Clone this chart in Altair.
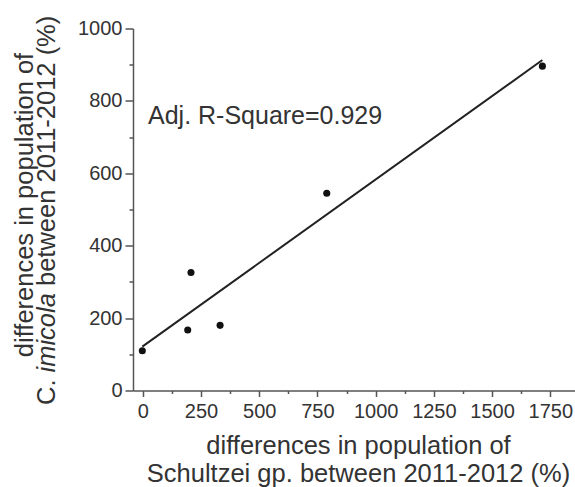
import altair as alt
import pandas as pd

# Change in population (%) between 2011 and 2012
schultzei_diff = [-2, 193, 207, 332, 790, 1716]
imicola_diff = [110, 167, 326, 180, 545, 896]

# Axis tick values
x_major = [0, 250, 500, 750, 1000, 1250, 1500, 1750]
x_minor = [125, 375, 625, 875, 1125, 1375, 1625]
y_major = [0, 200, 400, 600, 800, 1000]
y_minor = [100, 300, 500, 700, 900]

# Text
x_title = ["differences in population of", "Schultzei gp. between 2011-2012 (%)"]
y_title_line1 = "differences in population of"
y_title_parts = ["C.", "imicola", "between 2011-2012 (%)"]
fit_label = "Adj. R-Square=0.929"

FONT = "Liberation Sans"
INK = "#333333"
TITLE_SIZE = 25.5

df = pd.DataFrame({"x": schultzei_diff, "y": imicola_diff})

x_scale = alt.Scale(domain=[-42, 1856], nice=False, zero=False)
y_scale = alt.Scale(domain=[0, 1000], nice=False)

base = alt.Chart(df)

points = base.mark_circle(size=50, color="#111111", opacity=1).encode(
    x=alt.X("x:Q", scale=x_scale,
            axis=alt.Axis(values=x_major, title=x_title, tickSize=6, labelPadding=5,
                          titlePadding=12, titleX=225, format="d", orient="bottom")),
    y=alt.Y("y:Q", scale=y_scale,
            axis=alt.Axis(values=y_major, title=None, tickSize=8, labelPadding=3,
                          format="d", orient="left")),
)

# Least-squares fit line, carrying the minor-tick axes
fit = base.transform_regression("x", "y").mark_line(color="#222222", strokeWidth=2).encode(
    x=alt.X("x:Q", scale=x_scale,
            axis=alt.Axis(values=x_minor, labels=False, domain=False, title=None,
                          tickSize=3, orient="bottom")),
    y=alt.Y("y:Q", scale=y_scale,
            axis=alt.Axis(values=y_minor, labels=False, domain=False, title=None,
                          tickSize=4, orient="left")),
)

one = alt.Chart(pd.DataFrame({"k": [0]}))

label = one.mark_text(text=fit_label, font=FONT, fontSize=25, color=INK,
                      align="left", baseline="alphabetic").encode(
    x=alt.value(15), y=alt.value(95))

# Two-line vertical axis title with the species name in italics
yt1 = one.mark_text(text=y_title_line1, font=FONT, fontSize=TITLE_SIZE, color=INK,
                    angle=270, align="center", baseline="alphabetic").encode(
    x=alt.value(-100), y=alt.value(176.5))
yt_a = one.mark_text(text=y_title_parts[0], font=FONT, fontSize=TITLE_SIZE, color=INK,
                     angle=270, align="left", baseline="alphabetic").encode(
    x=alt.value(-78), y=alt.value(376.5))
yt_b = one.mark_text(text=y_title_parts[1], font=FONT, fontSize=TITLE_SIZE, color=INK,
                     fontStyle="italic", angle=270, align="left", baseline="alphabetic").encode(
    x=alt.value(-78), y=alt.value(344))
yt_c = one.mark_text(text=y_title_parts[2], font=FONT, fontSize=TITLE_SIZE, color=INK,
                     angle=270, align="left", baseline="alphabetic").encode(
    x=alt.value(-78), y=alt.value(257.5))

chart = (
    alt.layer(points, fit, label, yt1, yt_a, yt_b, yt_c)
    .resolve_axis(x="independent", y="independent")
    .properties(
        width=442, height=362,
        autosize=alt.AutoSizeParams(type="none"),
        padding={"left": 133, "top": 28.5, "right": 0, "bottom": 96.5},
        background="white",
    )
    .configure_view(stroke=None)
    .configure_axis(
        grid=False,
        domainColor="#555555", domainWidth=1.5,
        tickColor="#555555", tickWidth=1.5,
        labelFont=FONT, labelFontSize=20, labelColor=INK,
        labelFlush=False, labelOverlap=False,
        titleFont=FONT, titleFontSize=TITLE_SIZE, titleFontWeight="normal",
        titleColor=INK, titleLineHeight=27.5,
    )
)

chart.save("out.html", embed_options={"renderer": "svg", "actions": False})
